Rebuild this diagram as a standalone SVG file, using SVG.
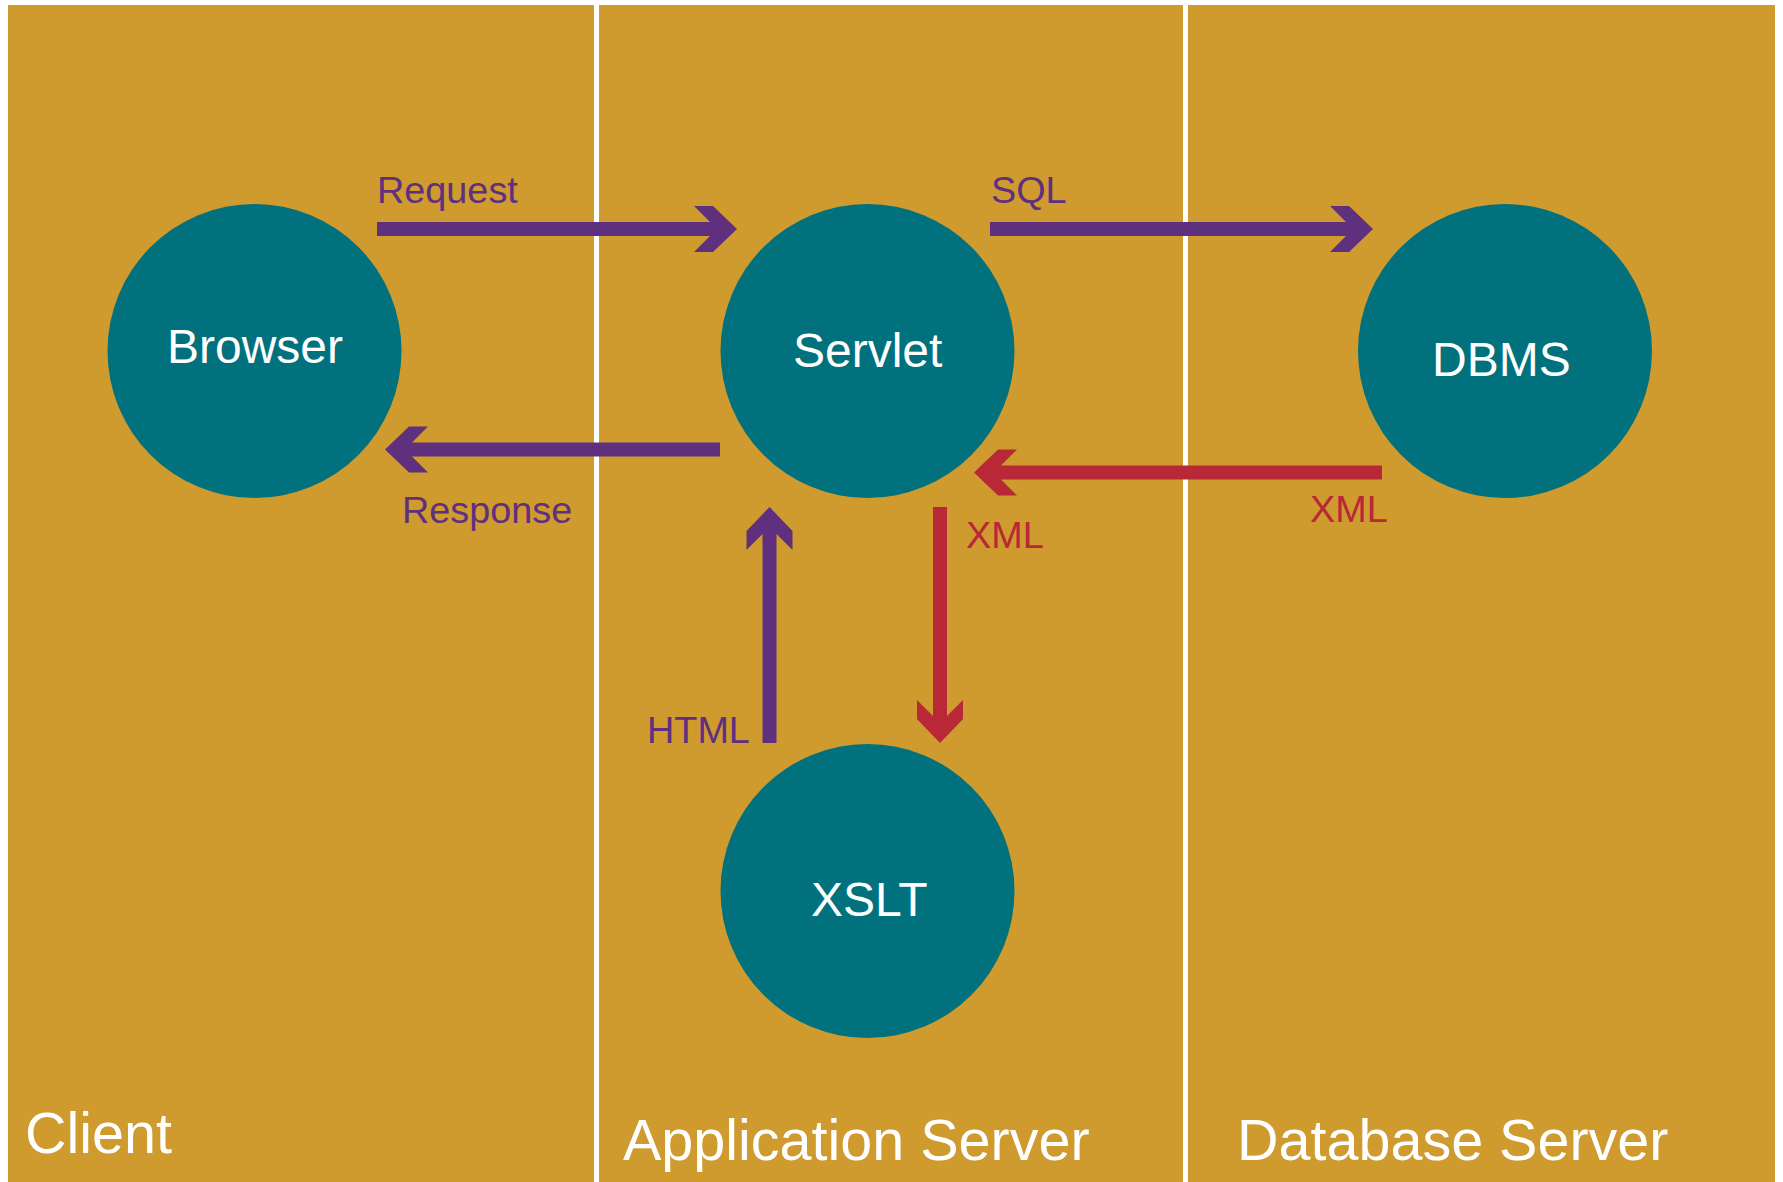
<svg xmlns="http://www.w3.org/2000/svg" width="1783" height="1182" viewBox="0 0 1783 1182">
  <style>
    .lane-bg { fill: #CF9A2E; }
    .divider { fill: #FFFFFF; }
    .node-shape { fill: #00717D; }
    .node-label { fill: #FFFFFF; font-family: "Liberation Sans", Arial, sans-serif; font-size: 48px; }
    .lane-label { fill: #FFFFFF; font-family: "Liberation Sans", Arial, sans-serif; font-size: 57.5px; }
    .purple { fill: #5E307E; }
    .red { fill: #B92837; }
    .edge-label { font-family: "Liberation Sans", Arial, sans-serif; font-size: 37.8px; }
  </style>
  <rect width="1783" height="1182" fill="#FFFFFF"/>
  <g id="lanes">
    <rect class="lane-bg" x="8" y="5" width="1767" height="1177"/>
    <rect class="divider" x="594" y="5" width="5" height="1177"/>
    <rect class="divider" x="1183" y="5" width="5" height="1177"/>
    <text class="lane-label" x="25" y="1153" font-size="58">Client</text>
    <text class="lane-label" x="623" y="1160">Application Server</text>
    <text class="lane-label" x="1237" y="1160" font-size="58">Database Server</text>
  </g>
  <g id="node-browser">
    <circle class="node-shape" cx="254.5" cy="351" r="147"/>
    <text class="node-label" x="167" y="363">Browser</text>
  </g>
  <g id="node-servlet">
    <circle class="node-shape" cx="867.5" cy="351" r="147"/>
    <text class="node-label" x="793" y="367">Servlet</text>
  </g>
  <g id="node-dbms">
    <circle class="node-shape" cx="1505" cy="351" r="147"/>
    <text class="node-label" x="1432" y="376">DBMS</text>
  </g>
  <g id="node-xslt">
    <circle class="node-shape" cx="867.5" cy="891" r="147"/>
    <text class="node-label" x="811" y="916">XSLT</text>
  </g>
  <g id="connectors">
    <!-- Request: Browser -> Servlet -->
    <polygon class="purple" points="377,222 710,222 694,206 713,206 737,229 713,252 694,252 710,236 377,236"/>
    <text class="edge-label purple" x="377" y="203">Request</text>
    <!-- Response: Servlet -> Browser -->
    <polygon class="purple" points="720,442.5 412,442.5 428,426.5 409,426.5 385,449.5 409,472.5 428,472.5 412,456.5 720,456.5"/>
    <text class="edge-label purple" x="402" y="523">Response</text>
    <!-- SQL: Servlet -> DBMS -->
    <polygon class="purple" points="990,222 1346,222 1330,206 1349,206 1373,229 1349,252 1330,252 1346,236 990,236"/>
    <text class="edge-label purple" x="991" y="203">SQL</text>
    <!-- XML: DBMS -> Servlet -->
    <polygon class="red" points="1382,465.5 1001,465.5 1017,449.5 998,449.5 974,472.5 998,495.5 1017,495.5 1001,479.5 1382,479.5"/>
    <text class="edge-label red" x="1310" y="522">XML</text>
    <!-- XML: Servlet -> XSLT -->
    <polygon class="red" points="933,507 933,716 917,700 917,719 940,743 963,719 963,700 947,716 947,507"/>
    <text class="edge-label red" x="966" y="548">XML</text>
    <!-- HTML: XSLT -> Servlet -->
    <polygon class="purple" points="762.5,743 762.5,534 746.5,550 746.5,531 769.5,507 792.5,531 792.5,550 776.5,534 776.5,743"/>
    <text class="edge-label purple" x="647" y="743">HTML</text>
  </g>
</svg>
